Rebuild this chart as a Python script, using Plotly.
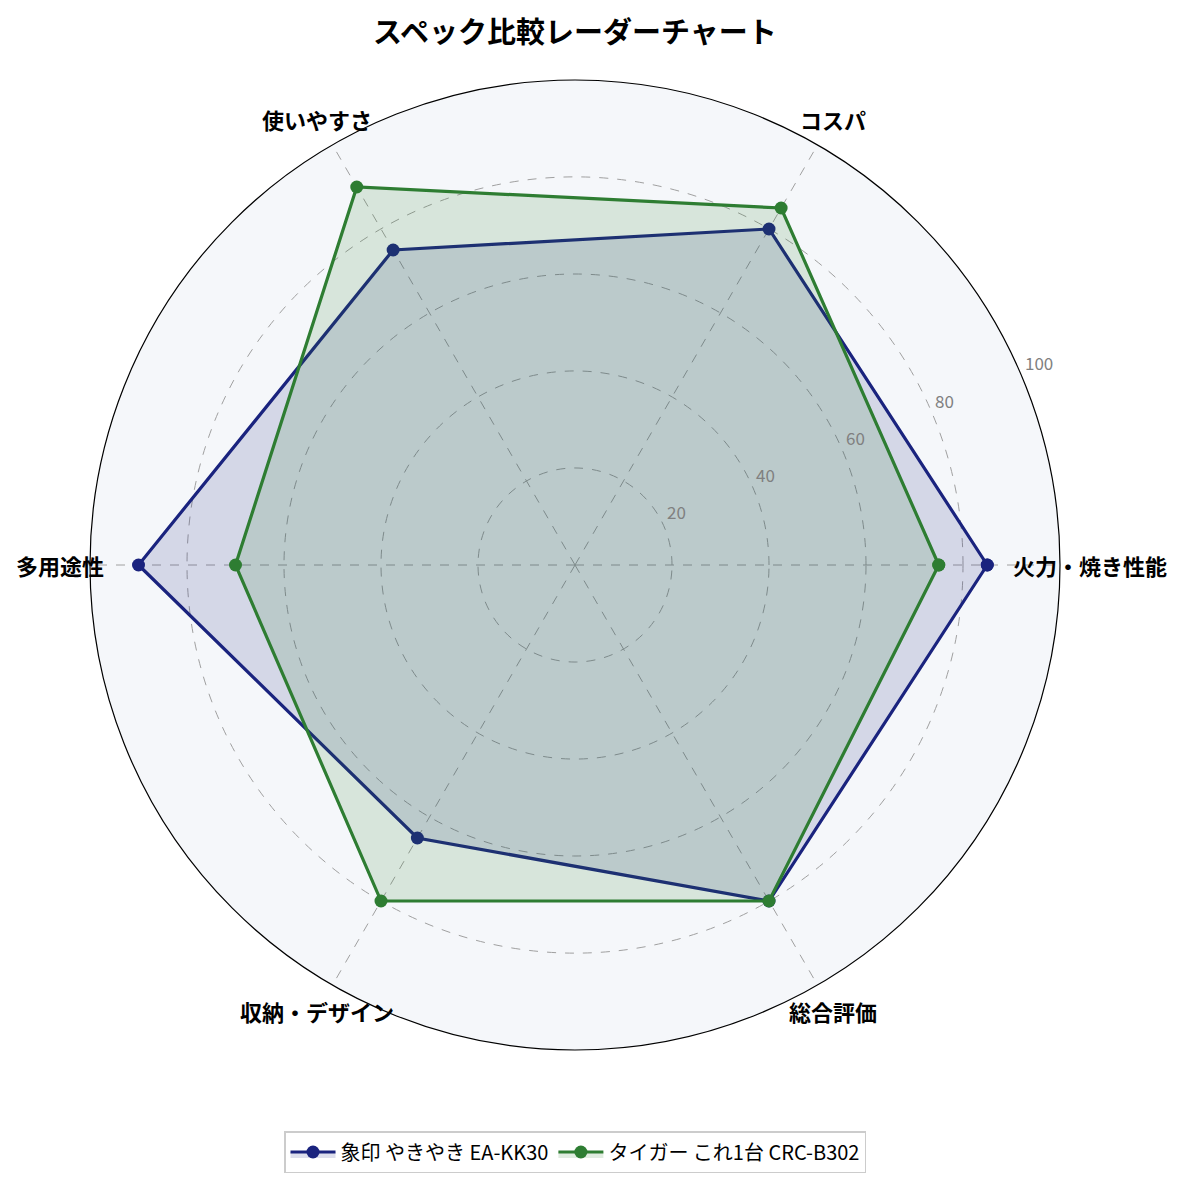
import math
import plotly.graph_objects as go

categories = ["火力・焼き性能", "コスパ", "使いやすさ", "多用途性", "収納・デザイン", "総合評価"]
series_names = ["象印 やきやき EA-KK30", "タイガー これ1台 CRC-B302"]
zojirushi = [85, 80, 75, 90, 65, 80]
tiger = [75, 85, 90, 70, 80, 80]
radial_ticks = [20, 40, 60, 80, 100]
title_text = "スペック比較レーダーチャート"

colors = ["#1A237E", "#2E7D32"]
fills = ["rgba(26,35,126,0.15)", "rgba(46,125,50,0.15)"]

fig = go.Figure()
for name, vals, c, f in zip(series_names, [zojirushi, tiger], colors, fills):
    fig.add_trace(go.Scatterpolar(
        r=vals + vals[:1],
        theta=categories + categories[:1],
        mode="lines+markers",
        name=name,
        line=dict(color=c, width=3.2),
        marker=dict(color=c, size=13),
        fill="toself",
        fillcolor=f,
    ))

W, H = 1185, 1186
OFF = 8  # browser body margin
cx, cy, R = 575, 565, 485
RMAX = 100
LABEL_ANGLE = 22.5


def px(x):
    return (x - OFF) / W


def py(y):
    return 1 - (y - OFF) / H


annotations = []
# title
annotations.append(dict(
    text=f"<b>{title_text}</b>", x=px(575), y=py(30), xref="paper", yref="paper",
    xanchor="center", yanchor="middle", showarrow=False, borderpad=0,
    font=dict(size=29, color="black"),
))
# category labels just outside the circle
lab_r = R * 1.062
for i, cat in enumerate(categories):
    a = math.radians(i * 360 / len(categories))
    annotations.append(dict(
        text=f"<b>{cat}</b>", x=px(cx + lab_r * math.cos(a)), y=py(cy - lab_r * math.sin(a)),
        xref="paper", yref="paper", xanchor="center", yanchor="middle", showarrow=False,
        font=dict(size=22, color="black"),
    ))
# radial tick labels along the 22.5 degree direction
a = math.radians(LABEL_ANGLE)
for t in radial_ticks:
    rr = t / RMAX * R
    annotations.append(dict(
        text=str(t), x=px(cx + rr * math.cos(a) + 1), y=py(cy - rr * math.sin(a) - 3),
        xref="paper", yref="paper", xanchor="left", yanchor="bottom", showarrow=False,
        font=dict(size=17, color="#808080"), borderpad=0,
    ))

fig.update_layout(
    width=W, height=H,
    margin=dict(l=0, r=0, t=0, b=0),
    paper_bgcolor="white",
    font=dict(family="Noto Sans CJK JP, Noto Sans, sans-serif", color="black"),
    annotations=annotations,
    polar=dict(
        domain=dict(x=[px(cx - R), px(cx + R)], y=[py(cy + R), py(cy - R)]),
        bgcolor="#F5F7FA",
        angularaxis=dict(
            rotation=0, direction="counterclockwise",
            showline=True, linecolor="black", linewidth=1.2,
            gridcolor="#A0A0A0", griddash="dash", gridwidth=0.8,
            ticks="", showticklabels=False,
        ),
        radialaxis=dict(
            range=[0, RMAX], tickvals=radial_ticks, showticklabels=False,
            angle=LABEL_ANGLE, showline=False, ticks="",
            gridcolor="#A0A0A0", griddash="dash", gridwidth=0.8,
        ),
    ),
    showlegend=True,
    legend=dict(orientation="h", x=px(575), xanchor="center", y=py(1152), yanchor="middle",
                bordercolor="#CCCCCC", borderwidth=1.5, bgcolor="white",
                itemwidth=45, font=dict(size=20, color="black")),
)

fig.write_html("out.html")
